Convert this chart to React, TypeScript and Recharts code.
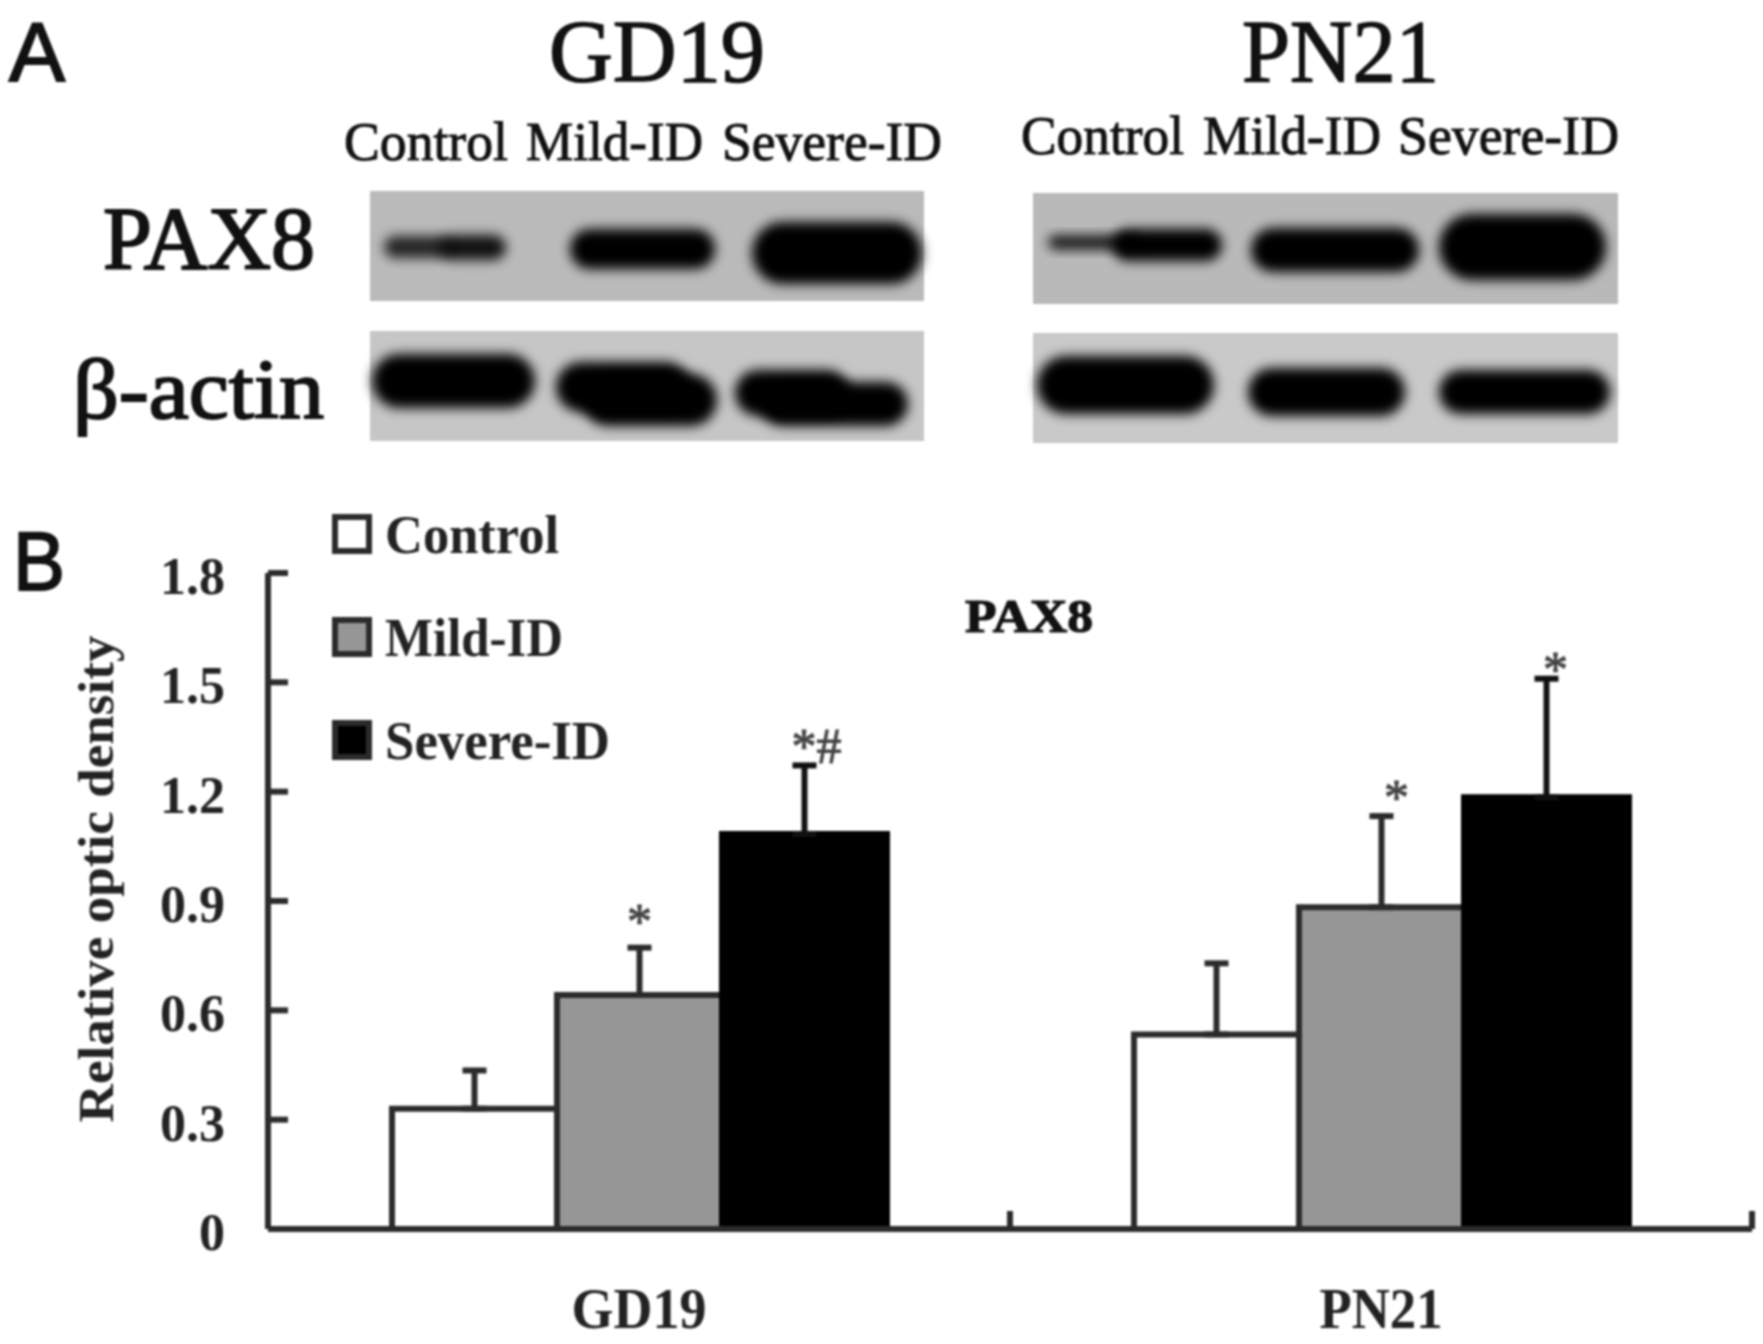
import { Bar, BarChart, ErrorBar, LabelList, Legend, XAxis, YAxis } from "recharts";

const CATEGORIES = ["GD19", "PN21"];
const SERIES_NAMES = ["Control", "Mild-ID", "Severe-ID"];
const CONTROL_VALUES = [0.33, 0.534];
const MILD_VALUES = [0.642, 0.883];
const SEVERE_VALUES = [1.084, 1.185];
const CONTROL_ERRORS = [0.105, 0.195];
const MILD_ERRORS = [0.13, 0.25];
const SEVERE_ERRORS = [0.188, 0.325];
const MILD_MARKS = ["*", "*"];
const SEVERE_MARKS = ["*#", "*"];
const Y_TICKS = [0, 0.3, 0.6, 0.9, 1.2, 1.5, 1.8];

const chartData = CATEGORIES.map((name, i) => ({
  name,
  control: CONTROL_VALUES[i],
  mild: MILD_VALUES[i],
  severe: SEVERE_VALUES[i],
  // only the upper whisker is drawn in the figure
  controlErr: [0, CONTROL_ERRORS[i]],
  mildErr: [0, MILD_ERRORS[i]],
  severeErr: [0, SEVERE_ERRORS[i]],
}));

const SERIF = '"Liberation Serif", serif';
const SANS = '"Liberation Sans", sans-serif';
const INK = "#2b2b2b";
const FILLS = ["#ffffff", "#969696", "#000000"];

const PLOT = { left: 268, right: 1752, top: 573, bottom: 1229 };
const UNIT_PX = (PLOT.bottom - PLOT.top) / 1.8;
const HALF_BAND = (PLOT.right - PLOT.left) / CATEGORIES.length / 2;

// blot photographs in panel A, not data
const BLOT_PANELS = [
  { x: 370, y: 191, w: 554, h: 110, fill: "#bababa" },
  { x: 370, y: 331, w: 554, h: 110, fill: "#c6c6c6" },
  { x: 1033, y: 193, w: 585, h: 111, fill: "#b9b9b9" },
  { x: 1033, y: 333, w: 585, h: 110, fill: "#c9c9c9" },
];
const BLOT_BANDS = [
  [384, 236, 68, 22, 0.8],
  [440, 235, 66, 25, 0.9],
  [570, 229, 145, 40, 1],
  [752, 222, 170, 62, 1],
  [372, 354, 163, 54, 1],
  [556, 362, 135, 50, 1],
  [582, 374, 135, 52, 1],
  [735, 370, 115, 46, 1],
  [760, 382, 148, 44, 1],
  [1048, 235, 90, 15, 0.85],
  [1112, 229, 110, 32, 1],
  [1251, 228, 168, 44, 1],
  [1439, 214, 167, 66, 1],
  [1037, 356, 177, 58, 1],
  [1248, 368, 157, 48, 1],
  [1439, 370, 171, 44, 1],
];

const PANEL_TEXTS = [
  { text: "A", x: 9, y: 81, w: 56, size: 84, font: SANS, heavy: 2 },
  { text: "B", x: 13, y: 590, w: 52, size: 84, font: SANS, heavy: 2 },
  { text: "GD19", x: 549, y: 81, w: 216, size: 88, font: SERIF, heavy: 1.5 },
  { text: "PN21", x: 1242, y: 81, w: 197, size: 88, font: SERIF, heavy: 1.5 },
  { text: "Control", x: 344, y: 160, w: 164, size: 54, font: SERIF, heavy: 1 },
  { text: "Mild-ID", x: 526, y: 160, w: 177, size: 54, font: SERIF, heavy: 1 },
  { text: "Severe-ID", x: 722, y: 160, w: 220, size: 54, font: SERIF, heavy: 1 },
  { text: "Control", x: 1021, y: 154, w: 163, size: 54, font: SERIF, heavy: 1 },
  { text: "Mild-ID", x: 1203, y: 154, w: 178, size: 54, font: SERIF, heavy: 1 },
  { text: "Severe-ID", x: 1398, y: 154, w: 221, size: 54, font: SERIF, heavy: 1 },
  { text: "PAX8", x: 103, y: 268, w: 212, size: 88, font: SERIF, heavy: 2 },
  { text: "β-actin", x: 73, y: 418, w: 251, size: 84, font: SERIF, heavy: 2 },
  { text: "PAX8", x: 965, y: 632, w: 128, size: 46, font: SERIF, heavy: 1.2, bold: true },
];

function YTick({ x, y, payload }: any) {
  return (
    <g>
      <line x1={x} x2={x + 20} y1={y} y2={y} stroke={INK} strokeWidth={6} />
      <text
        x={x - 43}
        y={y + 21}
        textAnchor="end"
        fontFamily={SERIF}
        fontWeight={700}
        fontSize={52}
        fill="#222"
      >
        {payload.value}
      </text>
    </g>
  );
}

function XTick({ x, y, payload, index }: any) {
  const edge = x + HALF_BAND;
  return (
    <g>
      {/* ticks sit on the group boundaries and point up */}
      <line x1={edge} x2={edge} y1={PLOT.bottom} y2={PLOT.bottom - 18} stroke={INK} strokeWidth={6} />
      <text
        x={x}
        y={y + 97}
        textAnchor="middle"
        fontFamily={SERIF}
        fontWeight={700}
        fontSize={56}
        fill="#222"
        textLength={index === 0 ? 135 : 123}
        lengthAdjust="spacingAndGlyphs"
      >
        {payload.value}
      </text>
    </g>
  );
}

function Significance({ errors, marks, shifts, lifts }: any) {
  return function SignificanceLabel({ x, y, width, index }: any) {
    return (
      <text
        x={x + width / 2 + shifts[index]}
        y={y - errors[index] * UNIT_PX - 2 - lifts[index]}
        textAnchor="middle"
        fontFamily={SERIF}
        fontSize={50}
        fill="#444"
        stroke="#444"
        strokeWidth={1}
      >
        {marks[index]}
      </text>
    );
  };
}

function FigureLegend() {
  const rowY = [534, 637, 740];
  const widths = [174, 178, 225];
  return (
    <svg width={320} height={300} style={{ position: "absolute", left: 320, top: 500, overflow: "visible" }}>
      {SERIES_NAMES.map((name, i) => (
        <g key={name}>
          <rect x={15} y={rowY[i] - 500 - 17} width={34} height={34} fill={FILLS[i]} stroke={INK} strokeWidth={6} />
          <text
            x={65}
            y={rowY[i] - 500 + 19}
            fontFamily={SERIF}
            fontWeight={700}
            fontSize={54}
            fill="#222"
            textLength={widths[i]}
            lengthAdjust="spacingAndGlyphs"
          >
            {name}
          </text>
        </g>
      ))}
    </svg>
  );
}

export default function App() {
  const axisLine = { stroke: INK, strokeWidth: 6 };
  return (
    <div
      style={{
        position: "absolute",
        left: 0,
        top: 0,
        width: 1763,
        height: 1344,
        background: "#fff",
        overflow: "hidden",
        filter: "blur(0.9px)",
      }}
    >
      <BarChart
        width={1763}
        height={1344}
        data={chartData}
        barGap={0}
        barSize={165}
        margin={{ left: 0, right: 1763 - PLOT.right, top: PLOT.top, bottom: 0 }}
      >
        <XAxis
          dataKey="name"
          height={1344 - PLOT.bottom}
          axisLine={axisLine}
          tickLine={false}
          tickSize={0}
          interval={0}
          tick={<XTick />}
        />
        <YAxis
          width={PLOT.left}
          domain={[0, 1.8]}
          ticks={Y_TICKS}
          interval={0}
          axisLine={axisLine}
          tickLine={false}
          tickSize={0}
          tickMargin={0}
          tick={<YTick />}
          label={{
            content: () => (
              <text
                transform="translate(113 879) rotate(-90)"
                textAnchor="middle"
                fontFamily={SERIF}
                fontWeight={700}
                fontSize={50}
                fill="#222"
                textLength={487}
                lengthAdjust="spacingAndGlyphs"
              >
                Relative optic density
              </text>
            ),
          }}
        />
        <Legend
          content={() => <FigureLegend />}
          wrapperStyle={{ position: "absolute", left: 0, top: 0, width: 0, height: 0 }}
        />
        <Bar dataKey="control" name={SERIES_NAMES[0]} fill={FILLS[0]} stroke={INK} strokeWidth={6} isAnimationActive={false}>
          <ErrorBar dataKey="controlErr" direction="y" width={12} stroke={INK} strokeWidth={6} isAnimationActive={false} />
        </Bar>
        <Bar dataKey="mild" name={SERIES_NAMES[1]} fill={FILLS[1]} stroke={INK} strokeWidth={6} isAnimationActive={false}>
          <ErrorBar dataKey="mildErr" direction="y" width={12} stroke={INK} strokeWidth={6} isAnimationActive={false} />
          <LabelList
            dataKey="mild"
            content={Significance({ errors: MILD_ERRORS, marks: MILD_MARKS, shifts: [0, 15], lifts: [8, 0] })}
          />
        </Bar>
        <Bar dataKey="severe" name={SERIES_NAMES[2]} fill={FILLS[2]} stroke="#000" strokeWidth={6} isAnimationActive={false}>
          <ErrorBar dataKey="severeErr" direction="y" width={12} stroke="#111" strokeWidth={6} isAnimationActive={false} />
          <LabelList
            dataKey="severe"
            content={Significance({ errors: SEVERE_ERRORS, marks: SEVERE_MARKS, shifts: [12, 9], lifts: [0, -9] })}
          />
        </Bar>
      </BarChart>

      <svg width={1763} height={1344} style={{ position: "absolute", left: 0, top: 0, pointerEvents: "none" }}>
        <defs>
          <filter id="bandBlur" x="-20%" y="-50%" width="140%" height="200%">
            <feGaussianBlur stdDeviation="6" />
          </filter>
        </defs>
        {BLOT_PANELS.map((p) => (
          <rect key={`${p.x}-${p.y}`} x={p.x} y={p.y} width={p.w} height={p.h} fill={p.fill} />
        ))}
        {BLOT_BANDS.map(([x, y, w, h, opacity]) => (
          <rect
            key={`${x}-${y}`}
            x={x}
            y={y}
            width={w}
            height={h}
            rx={Math.min(w, h) / 2}
            fill="#000"
            opacity={opacity}
            filter="url(#bandBlur)"
          />
        ))}
        {PANEL_TEXTS.map((t) => (
          <text
            key={`${t.text}-${t.x}`}
            x={t.x}
            y={t.y}
            fontFamily={t.font}
            fontWeight={t.bold ? 700 : 400}
            fontSize={t.size}
            textLength={t.w}
            lengthAdjust="spacingAndGlyphs"
            fill="#111"
            stroke="#111"
            strokeWidth={t.heavy}
          >
            {t.text}
          </text>
        ))}
      </svg>
    </div>
  );
}
